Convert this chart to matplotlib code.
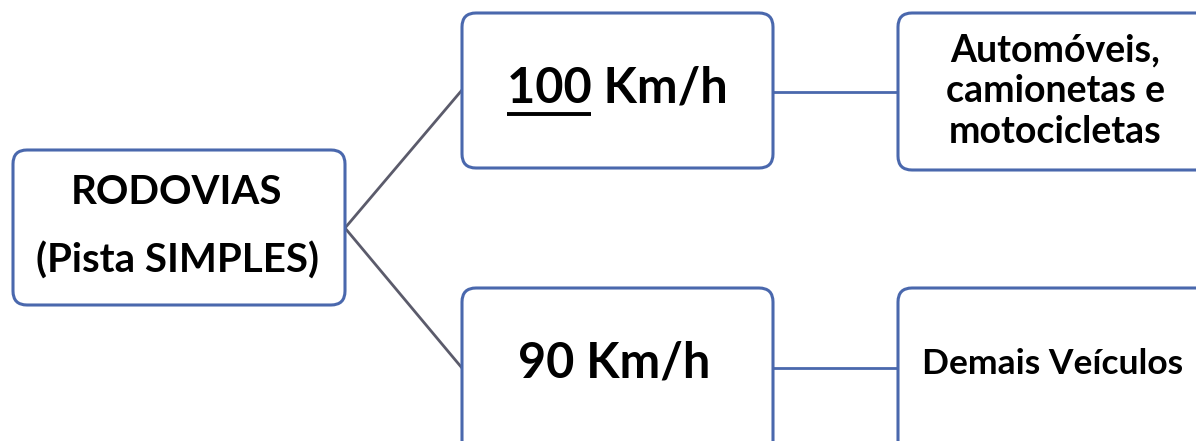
import matplotlib.pyplot as plt
from matplotlib.patches import FancyBboxPatch

# diagram content
root_label = "RODOVIAS\n(Pista SIMPLES)"
speed_labels = ["100 Km/h", "90 Km/h"]
vehicle_labels = ["Automóveis,\ncamionetas e\nmotocicletas", "Demais Veículos"]

plt.rcParams['font.family'] = ['Lato', 'DejaVu Sans']

fig = plt.figure(figsize=(11.96, 4.41), dpi=100)
ax = fig.add_axes([0, 0, 1, 1])
ax.set_xlim(0, 1196)
ax.set_ylim(441, 0)
ax.axis('off')

edge = '#4a68ad'


def box(x0, y0, x1, y1):
    p = FancyBboxPatch((x0, y0), x1 - x0, y1 - y0,
                       boxstyle="round,pad=0,rounding_size=14",
                       fc='white', ec=edge, lw=2.2, zorder=3)
    ax.add_patch(p)


# boxes
box(13, 150, 345, 305)
box(462, 13, 773, 168)
box(462, 288, 773, 455)
box(898, 13, 1215, 170)
box(898, 288, 1215, 455)

# connectors
ax.plot([345, 462], [228, 90], color='#5b5b6b', lw=2, zorder=1)
ax.plot([345, 462], [228, 368], color='#5b5b6b', lw=2, zorder=1)
ax.plot([773, 898], [92, 92], color='#4a68ad', lw=2, zorder=1)
ax.plot([773, 898], [368, 368], color='#4a68ad', lw=2, zorder=1)

ax.text(177, 227, root_label, ha='center', va='center', fontsize=29,
        fontweight='bold', linespacing=2.0, zorder=4)

t1 = ax.text(617, 88, speed_labels[0], ha='center', va='center', fontsize=35,
             fontweight='bold', zorder=4)
ax.text(614, 363, speed_labels[1], ha='center', va='center', fontsize=35,
        fontweight='bold', zorder=4)

ax.text(1055, 91, vehicle_labels[0], ha='center', va='center', fontsize=27,
        fontweight='bold', linespacing=1.25, zorder=4)
ax.text(1053, 364, vehicle_labels[1], ha='center', va='center', fontsize=25.5,
        fontweight='bold', zorder=4)

# underline the "100"
fig.canvas.draw()
r = fig.canvas.get_renderer()
bb = t1.get_window_extent(r)
tmp = ax.text(0, 0, speed_labels[0].split()[0], fontsize=35, fontweight='bold')
w = tmp.get_window_extent(r).width
tmp.remove()
inv = ax.transData.inverted()
xa, ya = inv.transform((bb.x0, bb.y0))
xb, _ = inv.transform((bb.x0 + w, bb.y0))
ax.plot([xa, xb], [ya + 3, ya + 3], color='black', lw=2.8, zorder=4,
        solid_capstyle='butt')

fig.savefig('out.png', dpi=100, facecolor='white')
